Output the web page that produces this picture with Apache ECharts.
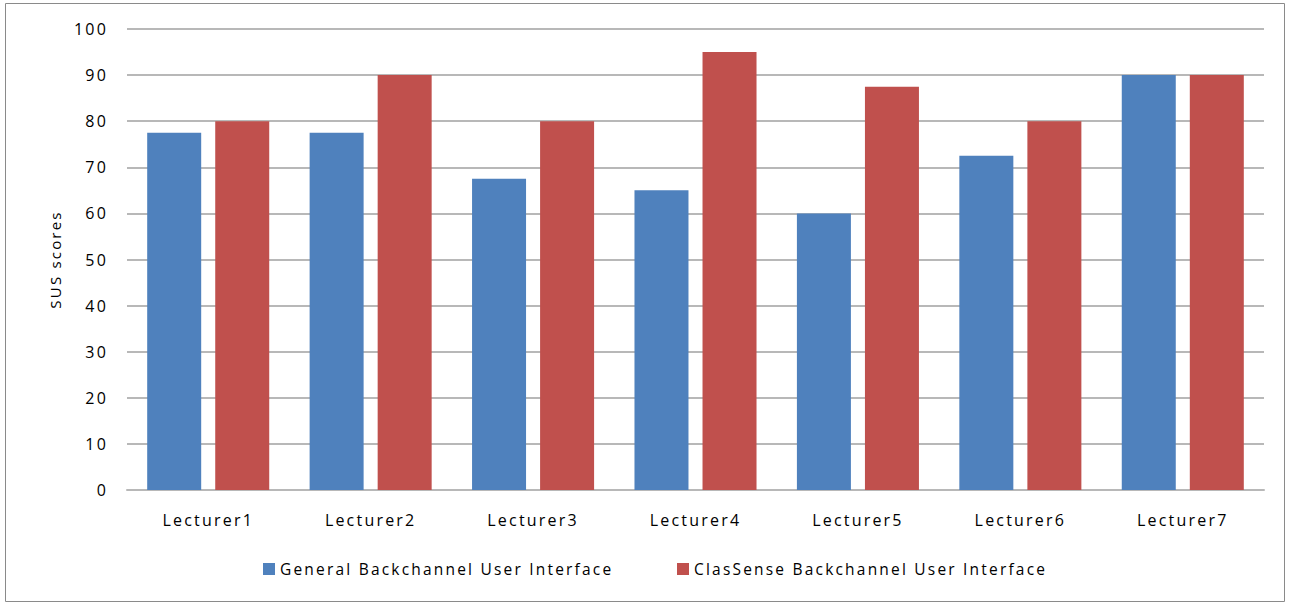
<!DOCTYPE html>
<html>
<head>
<meta charset="utf-8">
<script src="https://cdn.jsdelivr.net/npm/echarts@6/dist/echarts.min.js"></script>
<style>
  html, body { margin: 0; padding: 0; background: #fff; }
  #chart { width: 1290px; height: 604px; }
  #chart text { letter-spacing: 2.2px; }
</style>
</head>
<body>
<div id="chart"></div>
<script>
// SUS scores per lecturer for the two backchannel interfaces
const categories = ['Lecturer1', 'Lecturer2', 'Lecturer3', 'Lecturer4', 'Lecturer5', 'Lecturer6', 'Lecturer7'];
const generalScores = [77.5, 77.5, 67.5, 65, 60, 72.5, 90];
const clasSenseScores = [80, 90, 80, 95, 87.5, 80, 90];
const seriesNames = ['General Backchannel User Interface', 'ClasSense Backchannel User Interface'];
const yAxisName = 'SUS scores';

const FONT = '"Open Sans", "Liberation Sans", sans-serif';
const TEXT_COLOR = '#000';
const GRID_COLOR = '#b8b8b8';

// measure legend text so the second item lands where it should
function textWidth(str, size) {
  const c = document.createElement('canvas').getContext('2d');
  c.font = size + 'px ' + FONT;
  return c.measureText(str).width;
}
const legendLeft = 258;
const secondItemX = 672;
const legendGap = secondItemX - (legendLeft + 12 + 5 + textWidth(seriesNames[0], 15.5));

const chart = echarts.init(document.getElementById('chart'), null, { renderer: 'svg' });
chart.setOption({
  animation: false,
  backgroundColor: '#fff',
  textStyle: { fontFamily: FONT, color: TEXT_COLOR },
  graphic: [{
    type: 'rect',
    shape: { x: 5.5, y: 3.5, width: 1279, height: 598 },
    style: { fill: 'none', stroke: '#8a8a8a', lineWidth: 1 },
    silent: true
  }],
  grid: { left: 127, right: 26, top: 29, bottom: 114 },
  legend: {
    left: legendLeft,
    top: 556,
    itemWidth: 12,
    itemHeight: 12,
    itemGap: legendGap,
    icon: 'rect',
    textStyle: { fontFamily: FONT, fontSize: 15.5, color: TEXT_COLOR, padding: [0, 0, 0, 0] },
    data: seriesNames
  },
  xAxis: {
    type: 'category',
    data: categories,
    axisLine: { lineStyle: { color: GRID_COLOR, width: 2 } },
    axisTick: { show: false },
    axisLabel: { fontFamily: FONT, fontSize: 16, color: TEXT_COLOR, margin: 22 }
  },
  yAxis: {
    type: 'value',
    min: 0,
    max: 100,
    interval: 10,
    name: yAxisName,
    nameLocation: 'middle',
    nameGap: 65,
    nameRotate: 90,
    nameTextStyle: { fontFamily: FONT, fontSize: 15, color: TEXT_COLOR },
    axisLine: { show: false },
    axisTick: { show: false },
    axisLabel: { fontFamily: FONT, fontSize: 16, color: TEXT_COLOR, margin: 19 },
    splitLine: { lineStyle: { color: GRID_COLOR, width: 2 } }
  },
  series: [
    {
      name: seriesNames[0],
      type: 'bar',
      data: generalScores,
      barWidth: 54,
      barGap: '26%',
      itemStyle: { color: '#4F81BD' }
    },
    {
      name: seriesNames[1],
      type: 'bar',
      data: clasSenseScores,
      barWidth: 54,
      barGap: '26%',
      itemStyle: { color: '#C0504D' }
    }
  ]
});
</script>
</body>
</html>
